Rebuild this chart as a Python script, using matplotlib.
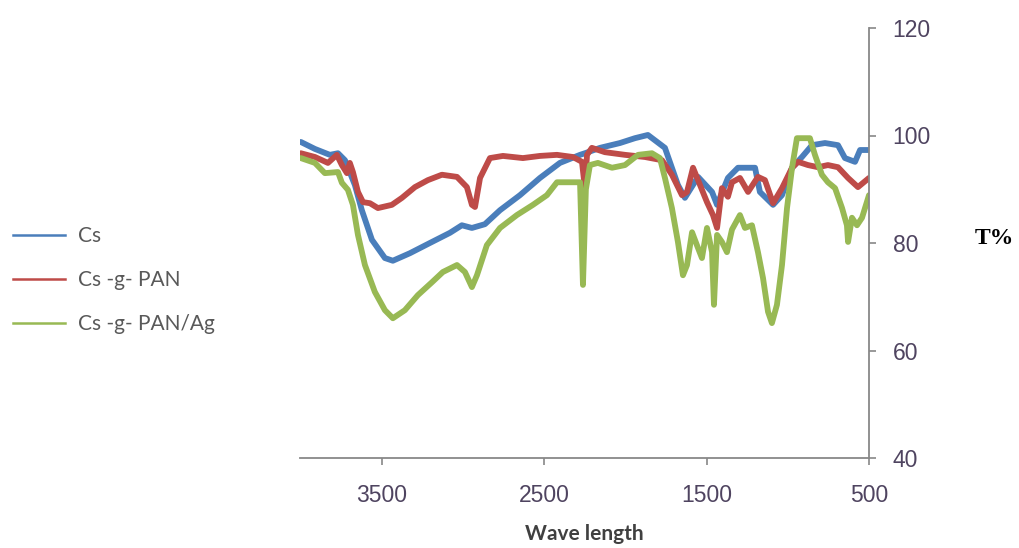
import matplotlib
matplotlib.use("Agg")
import matplotlib.pyplot as plt
from matplotlib.lines import Line2D

# FTIR spectra, wavenumber (cm-1) vs T%
cs_x = [4000, 3913, 3821, 3771, 3728, 3667, 3624, 3562, 3482, 3433, 3328, 3205,
        3081, 3008, 2946, 2866, 2773, 2650, 2527, 2404, 2280, 2250, 2157, 2034,
        1942, 1862, 1757, 1677, 1634, 1553, 1467, 1436, 1369, 1307, 1202, 1172,
        1091, 1036, 974, 913, 851, 771, 691, 648, 586, 555, 500]
cs_y = [98.8, 97.5, 96.4, 96.7, 95.4, 90.8, 86.1, 80.6, 77.2, 76.7, 78.1, 80.0,
        81.9, 83.3, 82.8, 83.5, 86.1, 88.9, 92.1, 94.9, 96.4, 96.7, 97.7, 98.6,
        99.5, 100.1, 97.7, 90.8, 88.4, 92.3, 89.5, 87.1, 92.1, 94.0, 94.0, 89.5,
        87.1, 88.9, 94.0, 96.0, 98.2, 98.6, 98.2, 95.8, 95.1, 97.3, 97.3]

pan_x = [4000, 3913, 3833, 3778, 3747, 3716, 3698, 3679, 3648, 3617, 3574, 3525,
         3439, 3377, 3297, 3217, 3131, 3038, 2977, 2946, 2927, 2896, 2835, 2755,
         2632, 2527, 2422, 2324, 2268, 2250, 2237, 2207, 2127, 2003, 1880, 1775,
         1714, 1652, 1621, 1584, 1541, 1498, 1461, 1436, 1406, 1369, 1344, 1295,
         1245, 1184, 1141, 1091, 1036, 974, 937, 876, 814, 753, 691, 629, 568, 500]
pan_y = [96.7, 96.0, 94.9, 96.4, 94.5, 93.0, 94.9, 93.2, 89.5, 87.6, 87.4, 86.5,
         87.1, 88.4, 90.4, 91.7, 92.7, 92.3, 90.4, 87.1, 86.7, 92.1, 95.8, 96.2,
         95.8, 96.2, 96.4, 96.0, 95.1, 90.2, 96.4, 97.7, 96.9, 96.4, 96.0, 95.4,
         92.7, 88.9, 89.5, 94.0, 90.8, 87.6, 85.2, 82.8, 90.2, 88.6, 91.3, 92.1,
         89.5, 92.3, 91.7, 87.4, 90.2, 94.0, 95.1, 94.5, 94.1, 94.5, 94.1, 92.1,
         90.4, 92.1]

ag_x = [4000, 3913, 3852, 3771, 3747, 3710, 3679, 3648, 3605, 3544, 3482, 3433,
        3359, 3279, 3192, 3125, 3038, 2989, 2946, 2915, 2854, 2773, 2669, 2570,
        2484, 2422, 2324, 2280, 2262, 2244, 2219, 2170, 2083, 2003, 1923, 1837,
        1788, 1757, 1714, 1677, 1646, 1621, 1590, 1560, 1529, 1498, 1467, 1455,
        1436, 1406, 1375, 1344, 1295, 1264, 1221, 1184, 1153, 1122, 1098, 1067,
        1036, 1005, 974, 944, 907, 864, 833, 790, 753, 709, 666, 636, 629, 605,
        574, 543, 500]
ag_y = [95.8, 94.9, 93.0, 93.2, 91.2, 89.9, 87.1, 81.5, 75.9, 70.9, 67.5, 66.0,
        67.5, 70.3, 72.7, 74.6, 75.9, 74.6, 71.8, 74.0, 79.6, 82.8, 85.2, 87.1,
        88.9, 91.3, 91.3, 91.3, 72.2, 90.0, 94.5, 94.9, 94.0, 94.5, 96.4, 96.7,
        95.8, 92.1, 86.5, 80.2, 74.0, 75.9, 82.0, 79.6, 77.2, 82.8, 78.3, 68.5,
        81.5, 80.2, 78.3, 82.5, 85.2, 82.8, 83.3, 78.3, 73.5, 67.2, 65.1, 68.5,
        75.9, 86.5, 94.0, 99.5, 99.5, 99.5, 96.4, 92.7, 91.3, 90.2, 86.5, 83.3,
        80.2, 84.7, 83.3, 84.7, 88.9]

labels = ["Cs", "Cs -g- PAN", "Cs -g- PAN/Ag"]
colors = ["#4a7ebb", "#be4b48", "#98b954"]
x_ticks = [3500, 2500, 1500, 500]
y_ticks = [40, 60, 80, 100, 120]

tick_color = "#4f4460"
axis_color = "#888888"

fig = plt.figure(figsize=(10.19, 5.48), dpi=100)
ax = fig.add_axes([300 / 1019, 90 / 548, 569 / 1019, 430 / 548])

for xs, ys, c in zip([cs_x, pan_x, ag_x], [cs_y, pan_y, ag_y], colors):
    ax.plot(xs, ys, color=c, lw=4.2, solid_joinstyle="round", solid_capstyle="round")

ax.set_xlim(4005, 500)
ax.set_ylim(40, 120)
ax.set_xticks(x_ticks)
ax.set_yticks(y_ticks)
ax.yaxis.tick_right()

for s in ["left", "top"]:
    ax.spines[s].set_visible(False)
for s in ["right", "bottom"]:
    ax.spines[s].set_color(axis_color)
    ax.spines[s].set_linewidth(1.3)

ax.tick_params(axis="both", direction="out", length=5, width=1.2, color=axis_color,
               labelcolor=tick_color, labelsize=16.5)
ax.tick_params(axis="x", pad=14)
ax.tick_params(axis="y", pad=12)
for t in ax.get_xticklabels() + ax.get_yticklabels():
    t.set_fontfamily("Liberation Sans")

ax.set_xlabel("Wave length", fontsize=15, fontweight="bold", color="#404040",
              fontfamily="Lato", labelpad=12)
fig.text(975 / 1019, 1 - 238 / 548, "T%", fontsize=17, fontweight="bold",
         fontfamily="Liberation Serif", va="center", ha="left", color="black")

handles = [Line2D([], [], color=c, lw=1.8) for c in colors]
fig.legend(handles, labels, loc="center left", bbox_to_anchor=(13 / 1019, 1 - 280 / 548),
           frameon=False, borderpad=0, borderaxespad=0, handlelength=2.5,
           handletextpad=0.6, labelspacing=1.15,
           prop={"family": "Lato", "size": 15}, labelcolor="#595959")

fig.savefig("out.png", dpi=100)
